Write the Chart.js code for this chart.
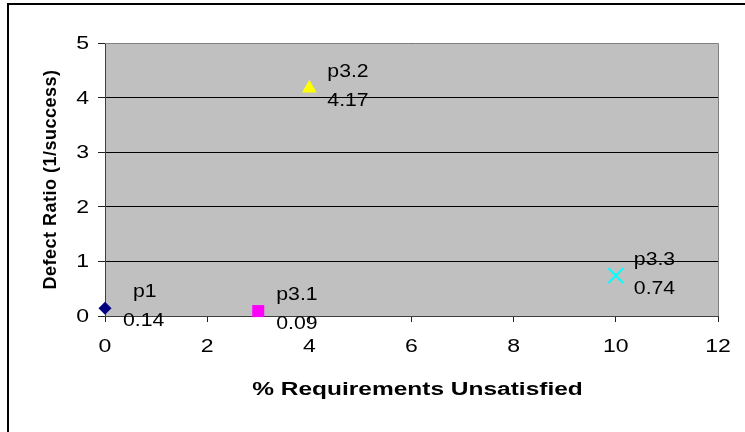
<!DOCTYPE html>
<html><head><meta charset="utf-8">
<script src="https://cdn.jsdelivr.net/npm/chart.js@4/dist/chart.umd.min.js"></script>
<style>html,body{margin:0;padding:0;background:#fff}#wrap{width:745px;height:432px;position:relative}</style>
</head><body><div id="wrap"><canvas id="c" width="745" height="432"></canvas></div>
<script>
const names = ['p1', 'p3.1', 'p3.2', 'p3.3'];
const xValues = [0, 3, 4, 10];
const yValues = [0.14, 0.09, 4.17, 0.74];
const valueLabels = ['0.14', '0.09', '4.17', '0.74'];
const xTickValues = [0, 2, 4, 6, 8, 10, 12];
const yTickValues = [0, 1, 2, 3, 4, 5];
const xTitle = '% Requirements Unsatisfied';
const yTitle = 'Defect Ratio (1/success)';

const colors = ['#000080', '#ff00ff', '#ffff00', '#00ffff'];
const shapes = ['rectRot', 'rect', 'triangle', 'crossRot'];
const sizes = [6.5, 8.5, 8.5, 10.5];

const FONT = 'Arial, "Liberation Sans", sans-serif';
const SX = 1.28; // horizontal stretch of the original rendering

const datasets = names.map((n, i) => ({
  label: n,
  data: [{x: xValues[i], y: yValues[i]}],
  pointStyle: shapes[i],
  pointRadius: sizes[i],
  backgroundColor: colors[i],
  borderColor: colors[i],
  borderWidth: shapes[i] === 'crossRot' ? 2 : 0,
  clip: false
}));

function stretchedText(ctx, text, x, y, align, sx) {
  ctx.save();
  ctx.translate(x, y);
  ctx.scale(sx, 1);
  ctx.textAlign = align;
  ctx.fillText(text, 0, 0);
  ctx.restore();
}

const framePlugin = {
  id: 'frame',
  beforeDraw(chart) {
    const {ctx, chartArea: a} = chart;
    ctx.save();
    ctx.fillStyle = '#fff';
    ctx.fillRect(0, 0, chart.width, chart.height);
    ctx.fillStyle = '#c0c0c0';
    ctx.fillRect(a.left, a.top, a.right - a.left, a.bottom - a.top);
    ctx.restore();
  },
  afterDraw(chart) {
    const {ctx, chartArea: a, scales} = chart;
    ctx.save();
    ctx.strokeStyle = '#808080';
    ctx.lineWidth = 1;
    ctx.beginPath();
    ctx.moveTo(a.left, a.top + 0.5); ctx.lineTo(a.right + 0.5, a.top + 0.5); ctx.lineTo(a.right + 0.5, a.bottom);
    ctx.stroke();
    // outer frame (right and bottom edges fall outside the picture)
    ctx.strokeStyle = '#000';
    ctx.lineWidth = 2;
    ctx.beginPath();
    ctx.moveTo(8, 440); ctx.lineTo(8, 4); ctx.lineTo(760, 4);
    ctx.stroke();

    // tick labels
    ctx.fillStyle = '#000';
    ctx.font = '18px ' + FONT;
    ctx.textBaseline = 'middle';
    xTickValues.forEach(v => {
      stretchedText(ctx, String(v), scales.x.getPixelForValue(v), 347, 'center', SX);
    });
    yTickValues.forEach(v => {
      stretchedText(ctx, String(v), 89, scales.y.getPixelForValue(v) + 1, 'right', SX);
    });

    // axis titles
    ctx.font = 'bold 18px ' + FONT;
    stretchedText(ctx, xTitle, (a.left + a.right) / 2 + 6, 390, 'center', 1.36);
    ctx.save();
    ctx.translate(51, (a.top + a.bottom) / 2);
    ctx.rotate(-Math.PI / 2);
    ctx.textAlign = 'center';
    ctx.letterSpacing = '0.5px';
    ctx.fillText(yTitle, 0, 0);
    ctx.restore();
    ctx.restore();
  },
  afterDatasetsDraw(chart) {
    const {ctx, scales} = chart;
    ctx.save();
    ctx.fillStyle = '#000';
    ctx.font = '18px ' + FONT;
    ctx.textBaseline = 'middle';
    names.forEach((n, i) => {
      const px = scales.x.getPixelForValue(xValues[i]);
      const py = scales.y.getPixelForValue(yValues[i]);
      const dxName = i === 0 ? 28 : 18;
      stretchedText(ctx, n, px + dxName, py - 16, 'left', 1.18);
      stretchedText(ctx, valueLabels[i], px + 18, py + 13, 'left', 1.18);
    });
    ctx.restore();
  }
};

new Chart(document.getElementById('c'), {
  type: 'scatter',
  data: {datasets},
  options: {
    responsive: false,
    animation: false,
    devicePixelRatio: 1,
    layout: {padding: {top: 43, right: 27, left: 0, bottom: 0}},
    plugins: {legend: {display: false}, tooltip: {enabled: false}},
    scales: {
      x: {
        type: 'linear', min: 0, max: 12,
        ticks: {stepSize: 2, display: false},
        grid: {drawOnChartArea: false, drawTicks: true, tickLength: 6, tickColor: '#202020'},
        border: {color: '#404040', width: 1},
        afterFit(s) { s.height = 432 - 316; }
      },
      y: {
        type: 'linear', min: 0, max: 5,
        ticks: {stepSize: 1, display: false},
        grid: {color: '#000', drawTicks: true, tickLength: 7, tickColor: '#202020'},
        border: {color: '#404040', width: 1},
        afterFit(s) { s.width = 105; }
      }
    }
  },
  plugins: [framePlugin]
});
</script></body></html>
